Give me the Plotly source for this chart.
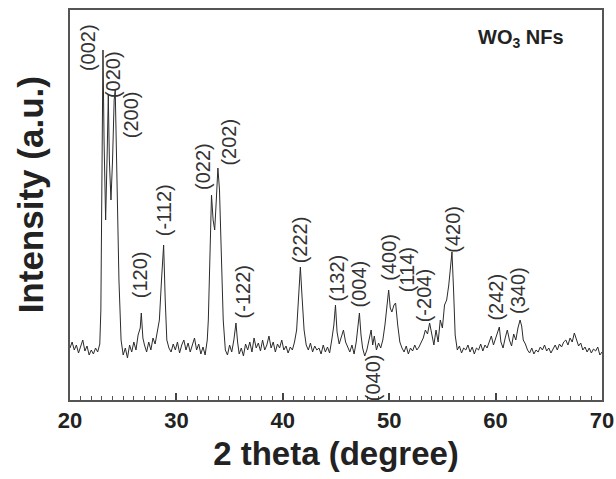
import plotly.graph_objects as go

two_theta = [20.0,20.2,20.4,20.6,20.8,21.0,21.2,21.4,21.6,21.8,22.0,22.2,22.4,22.6,22.8,22.9,23.0,23.1,23.2,23.35,
 23.5,23.6,23.7,23.85,24.0,24.15,24.25,24.4,24.6,24.8,25.0,25.2,25.4,25.6,25.8,26.0,26.2,26.4,26.6,26.7,
 26.85,27.0,27.2,27.4,27.6,27.8,28.0,28.2,28.4,28.6,28.8,28.95,29.1,29.3,29.5,29.7,29.9,30.1,30.3,30.5,
 30.7,30.9,31.1,31.3,31.5,31.7,31.9,32.1,32.3,32.5,32.7,32.9,33.0,33.15,33.3,33.45,33.6,33.75,33.9,34.05,
 34.2,34.4,34.6,34.8,35.0,35.2,35.4,35.6,35.75,35.9,36.1,36.3,36.5,36.7,36.9,37.1,37.3,37.5,37.7,37.9,
 38.1,38.3,38.5,38.7,38.9,39.1,39.3,39.5,39.7,39.9,40.1,40.3,40.5,40.7,40.9,41.1,41.3,41.5,41.65,41.8,
 42.0,42.2,42.4,42.6,42.8,43.0,43.2,43.4,43.6,43.8,44.0,44.2,44.4,44.6,44.8,44.95,45.1,45.3,45.5,45.7,
 45.9,46.1,46.3,46.5,46.7,46.9,47.05,47.2,47.35,47.5,47.7,47.9,48.1,48.3,48.45,48.6,48.8,49.0,49.2,49.4,
 49.6,49.8,49.95,50.1,50.25,50.45,50.6,50.8,51.0,51.2,51.4,51.6,51.8,52.0,52.2,52.4,52.6,52.8,53.0,53.2,
 53.4,53.6,53.8,54.0,54.2,54.4,54.6,54.8,55.0,55.2,55.4,55.6,55.75,55.9,56.05,56.2,56.4,56.6,56.8,57.0,
 57.2,57.4,57.6,57.8,58.0,58.2,58.4,58.6,58.8,59.0,59.2,59.4,59.6,59.8,60.0,60.2,60.35,60.5,60.7,60.9,
 61.1,61.3,61.5,61.7,61.9,62.1,62.3,62.45,62.6,62.8,63.0,63.2,63.4,63.6,63.8,64.0,64.2,64.4,64.6,64.8,
 65.0,65.2,65.4,65.6,65.8,66.0,66.2,66.4,66.6,66.8,67.0,67.2,67.4,67.6,67.8,68.0,68.2,68.4,68.6,68.8,
 69.0,69.2,69.4,69.6,69.8,70.0]

intensity = [52,58,50,55,47,53,60,49,54,45,50,46,52,48,56,90,220,350,260,180,
 250,305,240,200,240,300,310,220,120,60,45,52,42,55,48,58,50,65,72,87,
 62,55,48,58,50,62,56,68,80,120,155,100,60,52,48,56,50,58,47,55,
 60,50,57,48,54,62,50,56,46,53,45,60,80,150,205,180,170,200,232,210,
 150,80,50,45,55,48,60,77,58,46,52,44,56,50,58,48,62,52,57,49,
 60,50,55,64,52,58,48,56,52,60,50,54,47,53,50,58,70,100,133,105,
 70,55,50,57,48,54,50,52,46,55,48,53,47,60,75,95,68,56,62,70,
 58,52,48,55,46,58,72,87,65,52,44,50,60,70,55,64,50,57,52,60,
 75,100,110,92,88,95,97,75,58,52,48,54,46,52,49,55,50,53,58,62,
 70,66,77,64,55,70,58,80,72,95,100,115,130,148,110,65,50,54,47,52,
 50,55,48,53,46,52,50,56,49,55,52,58,64,55,62,70,73,58,52,62,
 70,60,54,66,60,72,80,74,60,56,50,47,52,46,50,48,53,50,55,49,
 52,47,51,55,50,56,53,58,60,55,62,58,67,60,54,57,50,53,48,52,
 47,51,49,53,45,48]

peak_labels = ["(002)","(020)","(200)","(120)","(-112)","(022)","(202)","(-122)","(222)",
               "(132)","(004)","(040)","(400)","(114)","(-204)","(420)","(242)","(340)"]
label_x = [21.7,24.05,25.75,26.6,28.85,32.5,34.9,36.3,41.65,45.05,47.2,48.5,49.95,51.7,53.3,55.97,60.0,62.1]
label_y = [352,325,285,125,190,233,258,108,160,122,116,22,143,130,104,171,103,110]

x_ticks = [20,30,40,50,60,70]

fig = go.Figure()
fig.add_trace(go.Scatter(x=two_theta, y=intensity, mode="lines",
                         line=dict(color="#2b2b2b", width=1), showlegend=False, hoverinfo="skip"))

for t, lx, ly in zip(peak_labels, label_x, label_y):
    fig.add_annotation(x=lx, y=ly, xref="x", yref="y", text=t, textangle=-90, showarrow=False,
                       font=dict(family="Arial", size=20, color="#333333"))

fig.add_annotation(x=62.4, y=362, xref="x", yref="y", text="WO<sub>3</sub> NFs", showarrow=False,
                   font=dict(family="Arial", size=20, color="#222222", weight="bold"))

fig.add_annotation(x=-0.075, y=0.525, xref="paper", yref="paper", text="Intensity (a.u.)",
                   textangle=-90, showarrow=False, xanchor="center", yanchor="middle",
                   font=dict(family="Arial", size=35, color="#222222", weight="bold"))

fig.update_layout(
    width=616, height=479,
    margin=dict(l=70, r=14, t=10, b=79),
    paper_bgcolor="white", plot_bgcolor="white",
    font=dict(family="Arial", color="#222222"),
    xaxis=dict(range=[20, 70], tickvals=x_ticks, ticktext=[str(v) for v in x_ticks],
               ticks="inside", ticklen=7, tickwidth=1.5, tickcolor="#444",
               minor=dict(dtick=1, ticks="inside", ticklen=4, tickcolor="#555", tickwidth=1),
               showline=True, linecolor="#555", linewidth=2, mirror=True, showgrid=False, zeroline=False,
               automargin=False,
               tickfont=dict(size=22, weight="bold", color="#222"),
               title=dict(text="2 theta (degree)", font=dict(size=33, weight="bold", color="#222"), standoff=9)),
    yaxis=dict(range=[0, 390], showticklabels=False, ticks="",
               showline=True, linecolor="#555", linewidth=2, mirror=True, showgrid=False, zeroline=False,
               automargin=False),
)

fig.write_html("out.html", config={"displayModeBar": False},
               post_script="document.body.style.margin='0';document.body.style.overflow='hidden';")
